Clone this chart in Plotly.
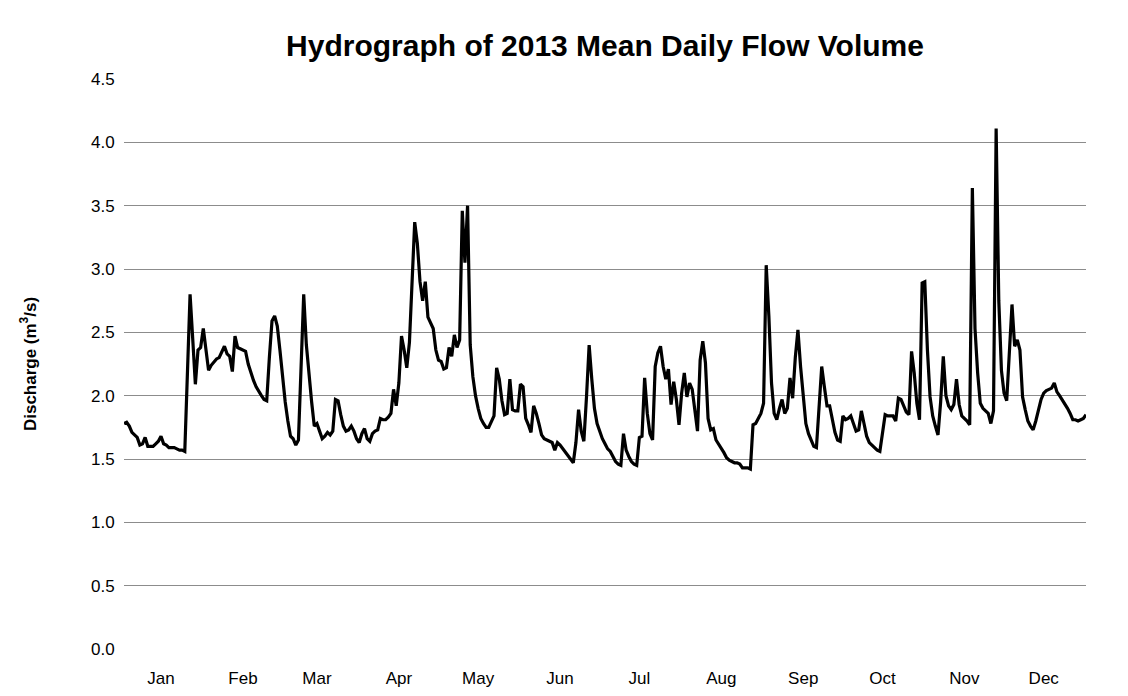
import pandas as pd
import plotly.graph_objects as go

jan = [1.78, 1.79, 1.76, 1.71, 1.69, 1.67, 1.61, 1.62, 1.67, 1.60,
       1.60, 1.60, 1.62, 1.64, 1.68, 1.62, 1.61, 1.59, 1.59, 1.59,
       1.58, 1.57, 1.57, 1.56, 2.18, 2.80, 2.45, 2.09, 2.36, 2.38,
       2.53]
feb = [2.36, 2.20, 2.24, 2.27, 2.29, 2.30, 2.35, 2.39, 2.33, 2.31,
       2.19, 2.47, 2.38, 2.37, 2.36, 2.35, 2.25, 2.18, 2.12, 2.07,
       2.03, 2.00, 1.97, 1.96, 2.30, 2.59, 2.63, 2.55]
mar = [2.36, 2.14, 1.95, 1.80, 1.68, 1.66, 1.61, 1.65, 2.22, 2.80,
       2.40, 2.15, 1.95, 1.76, 1.78, 1.72, 1.66, 1.68, 1.71, 1.69,
       1.72, 1.97, 1.96, 1.85, 1.76, 1.72, 1.73, 1.76, 1.72, 1.66,
       1.63]
apr = [1.70, 1.74, 1.66, 1.64, 1.70, 1.72, 1.73, 1.82, 1.81, 1.81,
       1.83, 1.86, 2.05, 1.92, 2.10, 2.47, 2.36, 2.22, 2.42, 2.95,
       3.37, 3.20, 2.90, 2.75, 2.90, 2.62, 2.57, 2.53, 2.36, 2.28]
may = [2.27, 2.21, 2.22, 2.38, 2.31, 2.48, 2.38, 2.44, 3.46, 3.05,
       3.50, 2.40, 2.15, 2.00, 1.90, 1.82, 1.78, 1.75, 1.75, 1.80,
       1.84, 2.22, 2.13, 1.96, 1.85, 1.86, 2.13, 1.89, 1.88, 1.88,
       2.09]
jun = [2.07, 1.82, 1.77, 1.71, 1.92, 1.86, 1.78, 1.69, 1.66, 1.65,
       1.64, 1.63, 1.57, 1.63, 1.61, 1.58, 1.55, 1.52, 1.50, 1.47,
       1.63, 1.89, 1.72, 1.64, 1.99, 2.40, 2.13, 1.90, 1.78, 1.71]
jul = [1.66, 1.62, 1.58, 1.56, 1.52, 1.48, 1.46, 1.45, 1.70, 1.57,
       1.52, 1.48, 1.46, 1.45, 1.67, 1.68, 2.14, 1.86, 1.70, 1.65,
       2.23, 2.34, 2.39, 2.23, 2.13, 2.21, 1.93, 2.11, 1.97, 1.77,
       2.02]
aug = [2.18, 1.99, 2.10, 2.05, 1.86, 1.72, 2.28, 2.43, 2.26, 1.82,
       1.73, 1.74, 1.65, 1.62, 1.58, 1.55, 1.51, 1.49, 1.48, 1.47,
       1.47, 1.46, 1.43, 1.43, 1.43, 1.42, 1.77, 1.78, 1.82, 1.86,
       1.94]
sep = [3.03, 2.63, 2.10, 1.86, 1.81, 1.90, 1.97, 1.86, 1.90, 2.14,
       1.98, 2.30, 2.52, 2.23, 1.97, 1.78, 1.70, 1.65, 1.60, 1.59,
       1.92, 2.23, 2.07, 1.92, 1.92, 1.80, 1.71, 1.65, 1.64, 1.84]
oct_ = [1.81, 1.82, 1.84, 1.78, 1.72, 1.73, 1.88, 1.78, 1.68, 1.63,
        1.61, 1.59, 1.57, 1.56, 1.71, 1.85, 1.84, 1.84, 1.84, 1.80,
        1.98, 1.97, 1.92, 1.87, 1.85, 2.35, 2.18, 1.94, 1.81, 2.89,
        2.90]
nov = [2.36, 1.99, 1.84, 1.76, 1.69, 1.95, 2.31, 2.00, 1.92, 1.89,
       1.93, 2.13, 1.93, 1.84, 1.82, 1.80, 1.77, 3.64, 2.53, 2.18,
       1.94, 1.90, 1.88, 1.86, 1.78, 1.88, 4.11, 2.75, 2.20, 2.02]
dec = [1.96, 2.36, 2.72, 2.39, 2.44, 2.36, 1.99, 1.89, 1.80, 1.76,
       1.73, 1.80, 1.90, 1.97, 2.02, 2.04, 2.05, 2.06, 2.10, 2.03,
       2.00, 1.97, 1.93, 1.90, 1.86, 1.81, 1.81, 1.80, 1.81, 1.82,
       1.85]

month_labels = ["Jan", "Feb", "Mar", "Apr", "May", "Jun",
                "Jul", "Aug", "Sep", "Oct", "Nov", "Dec"]
y_ticks = [0.0, 0.5, 1.0, 1.5, 2.0, 2.5, 3.0, 3.5, 4.0, 4.5]

discharge = jan + feb + mar + apr + may + jun + jul + aug + sep + oct_ + nov + dec
dates = pd.date_range("2013-01-01", periods=len(discharge), freq="D")
tick_dates = [pd.Timestamp(2013, m, 15) for m in range(1, 13)]

FONT = "Liberation Sans, Arial, sans-serif"

fig = go.Figure()
fig.add_trace(go.Scatter(
    x=dates, y=discharge, mode="lines",
    line=dict(color="#000000", width=3.2),
    showlegend=False, hoverinfo="x+y"))

fig.update_layout(
    width=1128, height=696,
    margin=dict(l=116, r=50, t=71, b=55),
    paper_bgcolor="white", plot_bgcolor="white",
    font=dict(family=FONT, size=17, color="#000000"),
    title=dict(text="<b>Hydrograph of 2013 Mean Daily Flow Volume</b>",
               x=0.5, xref="paper", xanchor="center",
               y=1 - 37 / 696, yanchor="middle",
               font=dict(family=FONT, size=30, color="#000000")),
    xaxis=dict(range=[dates[0], dates[-1]], tickmode="array",
               tickvals=tick_dates, ticktext=month_labels,
               showgrid=False, zeroline=False,
               ticks="outside", ticklen=14, tickcolor="rgba(0,0,0,0)",
               showline=False, tickfont=dict(size=17), fixedrange=True),
    yaxis=dict(range=[0, 4.5], tickmode="array", tickvals=y_ticks,
               tickformat=".1f", showgrid=True, gridcolor="#8c8c8c",
               gridwidth=1, zeroline=False, showline=False,
               ticks="outside", ticklen=5, tickcolor="rgba(0,0,0,0)",
               tickfont=dict(size=17),
               title=dict(text="<b>Discharge (m<sup>3</sup>/s)</b>",
                          font=dict(size=17), standoff=50)),
)

fig.write_html("out.html")
